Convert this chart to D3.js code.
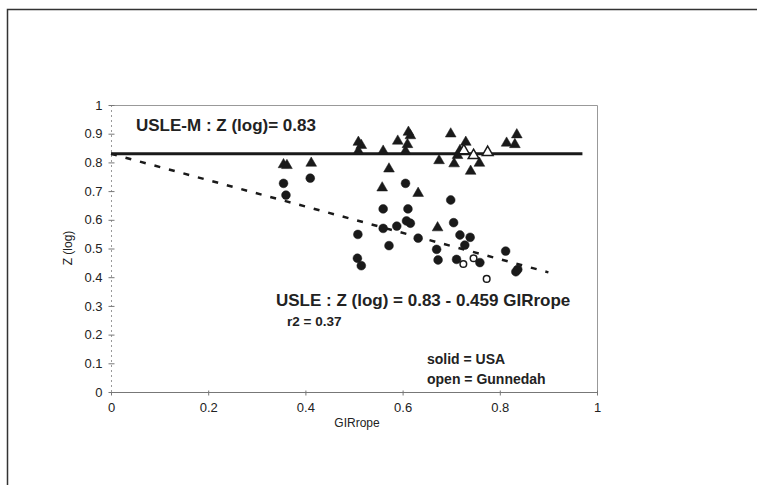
<!DOCTYPE html>
<html>
<head>
<meta charset="utf-8">
<script src="https://cdn.jsdelivr.net/npm/d3@7"></script>
<style>
  body { margin: 0; background: #fff; }
  svg { display: block; font-family: "Liberation Sans", Arial, sans-serif; }
</style>
</head>
<body>
<svg id="chart" width="757" height="485"></svg>
<script>
// USA data, triangles (USLE-M) [GIRrope, Z(log)]
var usaTriangles = [
  [0.509, 0.872], [0.515, 0.861], [0.509, 0.841], [0.560, 0.841], [0.572, 0.779],
  [0.590, 0.876], [0.612, 0.907], [0.616, 0.895], [0.610, 0.864], [0.606, 0.841],
  [0.699, 0.901], [0.730, 0.872], [0.718, 0.843], [0.713, 0.826], [0.675, 0.808],
  [0.706, 0.797], [0.740, 0.771], [0.758, 0.799], [0.814, 0.869], [0.831, 0.864],
  [0.835, 0.898], [0.558, 0.713], [0.632, 0.694], [0.672, 0.574], [0.355, 0.794],
  [0.362, 0.791], [0.412, 0.799]
];
// Gunnedah data, triangles
var gunTriangles = [[0.726, 0.843], [0.746, 0.826], [0.775, 0.837]];
// USA data, circles (USLE)
var usaCircles = [
  [0.355, 0.727], [0.360, 0.686], [0.410, 0.745], [0.606, 0.727], [0.560, 0.638],
  [0.611, 0.638], [0.508, 0.549], [0.560, 0.570], [0.588, 0.578], [0.608, 0.596],
  [0.616, 0.588], [0.572, 0.510], [0.632, 0.536], [0.507, 0.466], [0.515, 0.440],
  [0.699, 0.669], [0.705, 0.590], [0.718, 0.547], [0.739, 0.539], [0.728, 0.512],
  [0.670, 0.497], [0.673, 0.460], [0.711, 0.462], [0.759, 0.451], [0.812, 0.491],
  [0.833, 0.419], [0.837, 0.427]
];
// Gunnedah data, circles
var gunCircles = [[0.725, 0.446], [0.746, 0.466], [0.773, 0.394]];

var xTicks = [0, 0.2, 0.4, 0.6, 0.8, 1];
var yTicks = [0, 0.1, 0.2, 0.3, 0.4, 0.5, 0.6, 0.7, 0.8, 0.9, 1];
var uslemZ = 0.83;              // USLE-M constant
var usleA = 0.83, usleB = -0.459; // USLE regression
var usleRange = [0, 0.9];

var svg = d3.select("#chart");
var x = d3.scaleLinear().domain([0, 1]).range([111, 597]);
var y = d3.scaleLinear().domain([0, 1]).range([392, 105]);

// outer chart frame (cut off on the right and bottom)
svg.append("path")
    .attr("d", "M7.5,490 L7.5,9.5 L760,9.5")
    .attr("fill", "none")
    .attr("stroke", "#333")
    .attr("stroke-width", 1.5);

// plot area border top/right
svg.append("path")
    .attr("d", "M" + x(0) + "," + (y(1) + 0.5) + " L" + (x(1) + 0.5) + "," + (y(1) + 0.5) + " L" + (x(1) + 0.5) + "," + y(0))
    .attr("fill", "none")
    .attr("stroke", "#999")
    .attr("stroke-width", 1);

// axes
var xAxis = d3.axisBottom(x).tickValues(xTicks).tickSize(3)
    .tickFormat(function (d) { return d3.format("")(d); });
var yAxis = d3.axisLeft(y).tickValues(yTicks).tickSize(3)
    .tickFormat(function (d) { return d3.format("")(d); });

var gx = svg.append("g").attr("transform", "translate(0," + (y(0) + 0.5) + ")").call(xAxis);
gx.select(".domain").attr("stroke", "#777").attr("d", "M" + x(0) + ",0H" + x(1));
gx.selectAll(".tick line").attr("stroke", "#777").attr("y1", -2);
gx.selectAll(".tick text")
    .attr("y", 15)
    .attr("dy", "0.32em")
    .attr("fill", "#222")
    .style("font-size", "13px")
    .style("font-family", "Liberation Sans, Arial, sans-serif");

var gy = svg.append("g").attr("transform", "translate(" + (x(0) + 0.5) + ",0)").call(yAxis);
gy.select(".domain").attr("stroke", "#999").attr("stroke-dasharray", "2,3").attr("d", "M0," + y(1) + "V" + y(0));
gy.selectAll(".tick line").attr("stroke", "#777").attr("x2", 3).attr("x1", -3);
gy.selectAll(".tick text")
    .attr("x", -9)
    .attr("fill", "#222")
    .style("font-size", "13px")
    .style("font-family", "Liberation Sans, Arial, sans-serif");

// USLE-M horizontal line
svg.append("line")
    .attr("x1", x(0)).attr("x2", x(0.97))
    .attr("y1", y(uslemZ)).attr("y2", y(uslemZ))
    .attr("stroke", "#1a1a1a")
    .attr("stroke-width", 3);

// USLE regression dashed line
svg.append("line")
    .attr("x1", x(usleRange[0])).attr("x2", x(usleRange[1]))
    .attr("y1", y(usleA + usleB * usleRange[0])).attr("y2", y(usleA + usleB * usleRange[1]))
    .attr("stroke", "#1a1a1a")
    .attr("stroke-width", 2.5)
    .attr("stroke-dasharray", "6,9");

// markers
var tri = d3.symbol().type(d3.symbolTriangle).size(50);
function drawTriangles(data, open) {
    svg.append("g").selectAll("path")
        .data(data)
        .enter().append("path")
        .attr("d", tri)
        .attr("transform", function (d) { return "translate(" + x(d[0]) + "," + (y(d[1]) + 0.5) + ")"; })
        .attr("fill", open ? "#fff" : "#1a1a1a")
        .attr("stroke", "#1a1a1a")
        .attr("stroke-width", open ? 1.5 : 0.5);
}
function drawCircles(data, open) {
    svg.append("g").selectAll("circle")
        .data(data)
        .enter().append("circle")
        .attr("cx", function (d) { return x(d[0]); })
        .attr("cy", function (d) { return y(d[1]); })
        .attr("r", open ? 3.3 : 4.4)
        .attr("fill", open ? "#fff" : "#1a1a1a")
        .attr("stroke", "#1a1a1a")
        .attr("stroke-width", open ? 1.5 : 0.5);
}
drawTriangles(usaTriangles, false);
drawCircles(usaCircles, false);
drawTriangles(gunTriangles, true);
drawCircles(gunCircles, true);

// labels
function label(txt, px, py, size, weight, anchor) {
    return svg.append("text")
        .attr("x", px).attr("y", py)
        .attr("fill", "#222")
        .attr("text-anchor", anchor || "start")
        .style("font-size", size + "px")
        .style("font-weight", weight)
        .text(txt);
}
label("USLE-M : Z (log)= 0.83", 136, 131, 17, "bold");
label("USLE : Z (log) = 0.83 - 0.459 GIRrope", 276, 306, 17, "bold");
label("r2 = 0.37", 287, 326, 13.5, "bold");
label("solid = USA", 427, 364, 14, "bold");
label("open = Gunnedah", 427, 384, 14, "bold");
label("GIRrope", 357, 427, 12, "normal", "middle");

svg.append("text")
    .attr("transform", "translate(72,248) rotate(-90)")
    .attr("text-anchor", "middle")
    .attr("fill", "#222")
    .style("font-size", "12px")
    .text("Z (log)");
</script>
</body>
</html>
